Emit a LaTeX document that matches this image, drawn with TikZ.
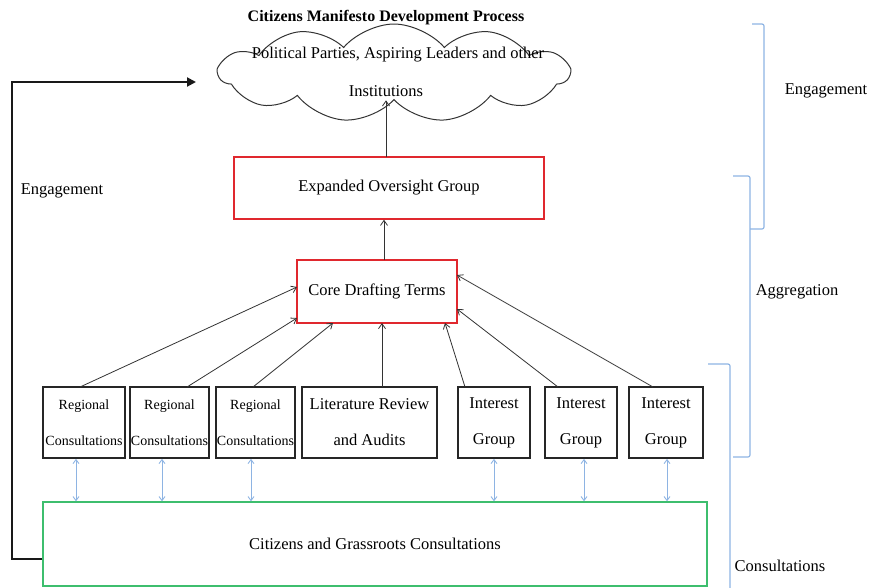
\documentclass[tikz,border=0pt]{standalone}
\usepackage{fontspec}
\setmainfont{Liberation Serif}
\usetikzlibrary{shapes.symbols,arrows.meta,calc}
\definecolor{bred}{HTML}{E0282E}
\definecolor{bgreen}{HTML}{3DBE6E}
\definecolor{bblue}{HTML}{8EB4E3}
\begin{document}
\begin{tikzpicture}[x=1pt,y=-1pt,
  txt/.style={font=\fontsize{16.5}{19}\selectfont, inner sep=0pt},
  blackbox/.style={draw=black!85, line width=1.8pt, minimum height=71pt, inner sep=0pt, align=center, font=\fontsize{16.5}{19}\selectfont},
  smallbox/.style={blackbox, font=\fontsize{14}{17}\selectfont},
  redbox/.style={draw=bred, line width=1.5pt, inner sep=0pt, font=\fontsize{16.5}{19}\selectfont},
  greenbox/.style={draw=bgreen, line width=1.5pt, inner sep=0pt, font=\fontsize{16.5}{19}\selectfont},
  conn/.style={draw=black!80, line width=0.8pt, -{Straight Barb[length=5pt,width=7pt]}},
  bconn/.style={draw=bblue, line width=0.9pt, {Straight Barb[length=4pt,width=6pt]}-{Straight Barb[length=4pt,width=6pt]}},
  bracket/.style={draw=bblue, line width=1.2pt, rounded corners=2pt},
  fb/.style={draw=black!90, line width=2pt, -{Triangle[length=9pt,width=9pt]}}
]
\useasboundingbox (0,0) rectangle (881,587);

% title and cloud
\node[font=\fontsize{16}{19}\selectfont\bfseries] (title) at (386,18) {Citizens Manifesto Development Process};
\node[cloud, cloud puffs=11, cloud puff arc=100, aspect=3.5, draw=black!80, line width=1pt,
      minimum width=350pt, minimum height=98pt, inner sep=0pt] (cloud) at (394,73) {};
\node[txt] (cl1) at (398,55) {Political Parties, Aspiring Leaders and other};
\node[txt] (cl2) at (386,91) {Institutions};

% red boxes
\node[redbox, minimum width=310pt, minimum height=62pt] (exp) at (389,188) {Expanded Oversight Group};
\node[redbox, minimum width=160pt, minimum height=63pt] (core) at (377,291.5) {Core Drafting Terms};

% bottom boxes
\node[smallbox, minimum width=82pt] (r1) at (84,422.5) {Regional\\[19pt]Consultations};
\node[smallbox, minimum width=79pt] (r2) at (169.5,422.5) {Regional\\[19pt]Consultations};
\node[smallbox, minimum width=79pt] (r3) at (255.5,422.5) {Regional\\[19pt]Consultations};
\node[blackbox, minimum width=135pt] (lit) at (369.5,422.5) {Literature Review\\[17pt]and Audits};
\node[blackbox, minimum width=72pt] (ig1) at (494,422.5) {Interest\\[17pt]Group};
\node[blackbox, minimum width=72pt] (ig2) at (581,422.5) {Interest\\[17pt]Group};
\node[blackbox, minimum width=74pt] (ig3) at (666,422.5) {Interest\\[17pt]Group};

% green box
\node[greenbox, minimum width=664pt, minimum height=84pt] (green) at (375,544) {Citizens and Grassroots Consultations};

% connectors up
\coordinate (expin) at (386,157);
\draw[conn] (expin) -- (expin |- cloud.south);
\coordinate (corein) at (384,260);
\draw[conn] (corein) -- (corein |- exp.south);

\coordinate (s1) at (80,387);   \coordinate (t1) at (297,287);
\coordinate (s2) at (187,387);  \coordinate (t2) at (297,318);
\coordinate (s3) at (253,387);  \coordinate (t3) at (333,323);
\coordinate (s4) at (382,387);  \coordinate (t4) at (382,323);
\coordinate (s5) at (465,387);  \coordinate (t5) at (445,323);
\coordinate (s6) at (558,387);  \coordinate (t6) at (457,309);
\coordinate (s7) at (653,387);  \coordinate (t7) at (457,275);
\foreach \i in {1,...,7} {\draw[conn] (s\i) -- (t\i);}

% blue double arrows
\draw[bconn] ([xshift=-8pt]r1.south) -- ([xshift=-8pt]r1.south |- green.north);
\draw[bconn] ([xshift=-7.5pt]r2.south) -- ([xshift=-7.5pt]r2.south |- green.north);
\draw[bconn] ([xshift=-4.5pt]r3.south) -- ([xshift=-4.5pt]r3.south |- green.north);
\draw[bconn] (ig1.south) -- (ig1.south |- green.north);
\draw[bconn] ([xshift=3pt]ig2.south) -- ([xshift=3pt]ig2.south |- green.north);
\draw[bconn] ([xshift=1pt]ig3.south) -- ([xshift=1pt]ig3.south |- green.north);

% feedback engagement loop
\coordinate (fbend) at (196,82);
\draw[fb] ([yshift=-15pt]green.west) -- ++(-30,0) |- (fbend);
\node[txt] (engl) at (62,191) {Engagement};

% brackets on the right
\draw[bracket] (752,24) -- (764,24) -- (764,229) -- (750,229);
\draw[bracket] (733,176) -- (750,176) -- (750,457) -- (733,457);
\draw[bracket] (708,364) -- (730,364) -- (730,590);
\node[txt] (eng) at (826,91) {Engagement};
\node[txt] (agg) at (797,292) {Aggregation};
\node[txt] (cons) at (780,566) {Consultations};
\end{tikzpicture}
\end{document}
